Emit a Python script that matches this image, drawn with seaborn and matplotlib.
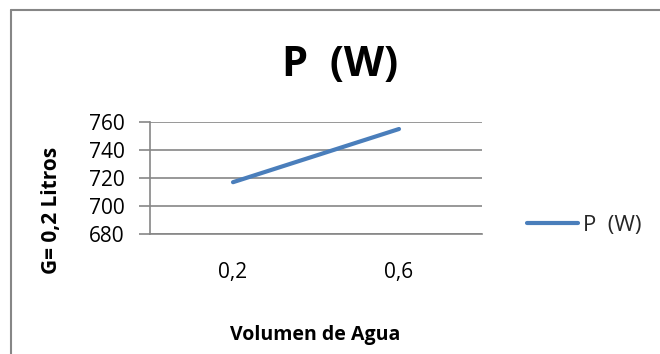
import matplotlib
matplotlib.use("Agg")
import matplotlib.pyplot as plt
from matplotlib.lines import Line2D
import seaborn as sns
import pandas as pd

categories = ["0,2", "0,6"]
power_w = [717, 755]
y_ticks = [680, 700, 720, 740, 760]

sns.set_theme(style="white")
plt.rcParams['font.family'] = ['Open Sans', 'DejaVu Sans']

df = pd.DataFrame({"vol": categories, "P  (W)": power_w})

fig = plt.figure(figsize=(6.6, 3.54), dpi=100)
ax = fig.add_axes([150/660, 1-234/354, (482-150)/660, (234-122)/354])

blue = "#4A7EBB"
grey = "#868686"
sns.lineplot(data=df, x="vol", y="P  (W)", ax=ax, color=blue, linewidth=3,
             solid_capstyle="round", label="P  (W)", legend=False)

ax.set_xlim(-0.5, 1.5)
ax.set_ylim(680, 760)
ax.set_yticks(y_ticks)
ax.set_yticklabels([str(v) for v in y_ticks])
for v in y_ticks:
    ax.axhline(v, color=grey, linewidth=1.2, zorder=0)
for s in ["top", "right"]:
    ax.spines[s].set_visible(False)
ax.spines["left"].set_color(grey)
ax.spines["bottom"].set_color(grey)
ax.spines["left"].set_linewidth(1.2)
ax.spines["bottom"].set_linewidth(1.2)
ax.tick_params(axis="y", which="both", left=True, length=8, width=1.2, color=grey,
               labelsize=15, pad=10, labelcolor="black")
ax.tick_params(axis="x", bottom=False, labelsize=15, pad=14, labelcolor="black")

ax.set_xlabel("")
ax.set_ylabel("")
fig.text(52/660, 1-210/354, "G= 0,2 Litros", rotation=90, ha="center", va="center",
         fontsize=15, fontweight="bold", color="black")
fig.text(315/660, 1-335/354, "Volumen de Agua", ha="center", va="center",
         fontsize=14, fontweight="bold", color="black")
fig.text(340/660, 1-65/354, "P  (W)", ha="center", va="center",
         fontsize=30, fontweight="bold", color="black")

handles = [Line2D([0], [0], color=blue, linewidth=3, solid_capstyle="round")]
leg = fig.legend(handles, ["P  (W)"], loc="center left",
                 bbox_to_anchor=(507/660, 1-225/354), frameon=False,
                 fontsize=16, handlelength=2.3, handletextpad=0.2)

fig.add_artist(Line2D([11/660, 11/660], [0, 1-10/354], transform=fig.transFigure,
                      color=grey, linewidth=1.5))
fig.add_artist(Line2D([11/660, 1], [1-10/354, 1-10/354], transform=fig.transFigure,
                      color=grey, linewidth=1.5))

fig.savefig("out.png", dpi=100)
